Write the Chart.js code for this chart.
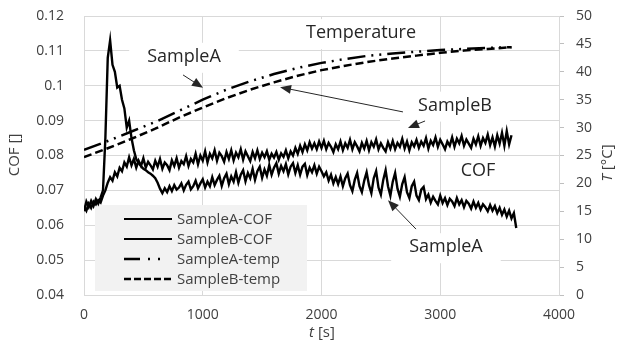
<!DOCTYPE html>
<html lang="en">
<head>
<meta charset="UTF-8" />
<title>COF and temperature vs time</title>
<script src="https://cdn.jsdelivr.net/npm/chart.js@4.4.0/dist/chart.umd.min.js"></script>
<style>
  html, body { margin: 0; padding: 0; background: #fff; }
  #wrap { position: relative; width: 621px; height: 347px; }
</style>
</head>
<body>
<div id="wrap"><canvas id="chart"></canvas></div>
<script>
// sample times for the friction records [s]
const cofTime = [
  0, 20, 40, 60, 80, 100, 120, 140, 160, 180,
  200, 220, 240, 260, 280, 300, 320, 340, 360, 380,
  400, 420, 440, 460, 480, 500, 520, 540, 560, 580,
  600, 620, 640, 660, 680, 700, 720, 740, 760, 780,
  800, 820, 840, 860, 880, 900, 920, 940, 960, 980,
  1000, 1020, 1040, 1060, 1080, 1100, 1120, 1140, 1160, 1180,
  1200, 1220, 1240, 1260, 1280, 1300, 1320, 1340, 1360, 1380,
  1400, 1420, 1440, 1460, 1480, 1500, 1520, 1540, 1560, 1580,
  1600, 1620, 1640, 1660, 1680, 1700, 1720, 1740, 1760, 1780,
  1800, 1820, 1840, 1860, 1880, 1900, 1920, 1940, 1960, 1980,
  2000, 2020, 2040, 2060, 2080, 2100, 2120, 2140, 2160, 2180,
  2200, 2220, 2240, 2260, 2280, 2300, 2320, 2340, 2360, 2380,
  2400, 2420, 2440, 2460, 2480, 2500, 2520, 2540, 2560, 2580,
  2600, 2620, 2640, 2660, 2680, 2700, 2720, 2740, 2760, 2780,
  2800, 2820, 2840, 2860, 2880, 2900, 2920, 2940, 2960, 2980,
  3000, 3020, 3040, 3060, 3080, 3100, 3120, 3140, 3160, 3180,
  3200, 3220, 3240, 3260, 3280, 3300, 3320, 3340, 3360, 3380,
  3400, 3420, 3440, 3460, 3480, 3500, 3520, 3540, 3560, 3580,
  3600, 3620, 3640
];
const sampleACof = [
  0.0640, 0.0668, 0.0652, 0.0670, 0.0655, 0.0675, 0.0662, 0.0680, 0.0700, 0.0850,
  0.1080, 0.1130, 0.1060, 0.1040, 0.0995, 0.1000, 0.0960, 0.0935, 0.0880, 0.0900,
  0.0850, 0.0815, 0.0790, 0.0778, 0.0770, 0.0762, 0.0758, 0.0752, 0.0748, 0.0742,
  0.0735, 0.0722, 0.0705, 0.0692, 0.0706, 0.0695, 0.0712, 0.0698, 0.0715, 0.0702,
  0.0708, 0.0720, 0.0700, 0.0716, 0.0725, 0.0703, 0.0712, 0.0728, 0.0706, 0.0720,
  0.0732, 0.0708, 0.0725, 0.0712, 0.0738, 0.0715, 0.0730, 0.0742, 0.0713, 0.0735,
  0.0748, 0.0718, 0.0740, 0.0725, 0.0752, 0.0722, 0.0745, 0.0758, 0.0726, 0.0750,
  0.0735, 0.0762, 0.0730, 0.0755, 0.0768, 0.0736, 0.0760, 0.0742, 0.0772, 0.0745,
  0.0765, 0.0778, 0.0748, 0.0770, 0.0755, 0.0775, 0.0746, 0.0768, 0.0778, 0.0750,
  0.0772, 0.0745, 0.0768, 0.0776, 0.0744, 0.0765, 0.0752, 0.0772, 0.0748, 0.0768,
  0.0755, 0.0740, 0.0752, 0.0728, 0.0745, 0.0720, 0.0738, 0.0718, 0.0740, 0.0712,
  0.0735, 0.0748, 0.0715, 0.0698, 0.0730, 0.0750, 0.0712, 0.0695, 0.0728, 0.0752,
  0.0715, 0.0692, 0.0735, 0.0755, 0.0708, 0.0688, 0.0730, 0.0758, 0.0712, 0.0685,
  0.0725, 0.0750, 0.0705, 0.0682, 0.0718, 0.0738, 0.0695, 0.0678, 0.0712, 0.0725,
  0.0685, 0.0672, 0.0702, 0.0710, 0.0675, 0.0688, 0.0665, 0.0682, 0.0670, 0.0660,
  0.0685, 0.0664, 0.0678, 0.0658, 0.0676, 0.0668, 0.0655, 0.0678, 0.0660, 0.0672,
  0.0652, 0.0670, 0.0662, 0.0648, 0.0668, 0.0650, 0.0664, 0.0645, 0.0660, 0.0652,
  0.0640, 0.0658, 0.0642, 0.0655, 0.0635, 0.0650, 0.0630, 0.0645, 0.0625, 0.0642,
  0.0620, 0.0635, 0.0592
];
const sampleBCof = [
  0.0655, 0.0642, 0.0662, 0.0650, 0.0668, 0.0660, 0.0672, 0.0665, 0.0685, 0.0700,
  0.0722, 0.0738, 0.0728, 0.0752, 0.0740, 0.0765, 0.0755, 0.0780, 0.0768, 0.0795,
  0.0772, 0.0790, 0.0765, 0.0785, 0.0770, 0.0792, 0.0765, 0.0782, 0.0772, 0.0760,
  0.0785, 0.0768, 0.0790, 0.0762, 0.0780, 0.0772, 0.0758, 0.0786, 0.0770, 0.0792,
  0.0765, 0.0784, 0.0775, 0.0798, 0.0770, 0.0790, 0.0780, 0.0805, 0.0775, 0.0800,
  0.0785, 0.0812, 0.0780, 0.0805, 0.0792, 0.0815, 0.0785, 0.0808, 0.0798, 0.0782,
  0.0810, 0.0790, 0.0815, 0.0786, 0.0808, 0.0795, 0.0818, 0.0788, 0.0812, 0.0798,
  0.0784, 0.0810, 0.0792, 0.0815, 0.0790, 0.0808, 0.0795, 0.0812, 0.0788, 0.0805,
  0.0794, 0.0810, 0.0788, 0.0806, 0.0796, 0.0815, 0.0792, 0.0812, 0.0800, 0.0822,
  0.0805, 0.0828, 0.0810, 0.0832, 0.0815, 0.0838, 0.0820, 0.0835, 0.0818, 0.0840,
  0.0822, 0.0842, 0.0818, 0.0836, 0.0825, 0.0810, 0.0832, 0.0818, 0.0840, 0.0815,
  0.0835, 0.0822, 0.0845, 0.0818, 0.0838, 0.0826, 0.0812, 0.0836, 0.0820, 0.0842,
  0.0815, 0.0838, 0.0825, 0.0846, 0.0818, 0.0835, 0.0822, 0.0812, 0.0838, 0.0820,
  0.0842, 0.0818, 0.0836, 0.0825, 0.0848, 0.0820, 0.0840, 0.0815, 0.0838, 0.0826,
  0.0845, 0.0822, 0.0840, 0.0828, 0.0850, 0.0820, 0.0842, 0.0830, 0.0852, 0.0825,
  0.0845, 0.0832, 0.0818, 0.0840, 0.0828, 0.0852, 0.0825, 0.0848, 0.0835, 0.0856,
  0.0828, 0.0846, 0.0834, 0.0822, 0.0848, 0.0832, 0.0855, 0.0828, 0.0850, 0.0836,
  0.0860, 0.0830, 0.0852, 0.0826, 0.0858, 0.0834, 0.0865, 0.0828, 0.0870, 0.0832,
  0.0858, null, null
];

// temperature records [°C]
const tempTime = [0, 200, 400, 600, 800, 1000, 1200, 1400, 1600, 1800, 2000,
  2200, 2400, 2600, 2800, 3000, 3200, 3400, 3600];
const sampleATemp = [26.0, 27.6, 29.3, 31.0, 33.0, 35.0, 36.8, 38.3, 39.6, 40.7, 41.6,
  42.3, 42.9, 43.3, 43.6, 43.9, 44.1, 44.3, 44.4];
const sampleBTemp = [24.7, 26.3, 28.0, 29.8, 31.8, 33.6, 35.3, 36.8, 38.1, 39.3, 40.3,
  41.1, 41.8, 42.4, 42.9, 43.4, 43.8, 44.1, 44.4];

const timeTicks = [0, 1000, 2000, 3000, 4000];
const cofTicks = [0.04, 0.05, 0.06, 0.07, 0.08, 0.09, 0.1, 0.11, 0.12];
const tempTicks = [0, 5, 10, 15, 20, 25, 30, 35, 40, 45, 50];

// callouts, placed in data units (t, COF)
const notes = [
  { text: 'SampleA', t: 842, cof: 0.1083 },
  { text: 'Temperature', t: 2333, cof: 0.1151 },
  { text: 'SampleB', t: 3124, cof: 0.0943 },
  { text: 'COF', t: 3318, cof: 0.0755 },
  { text: 'SampleA', t: 3048, cof: 0.0537 }
];
const arrows = [
  { from: [834, 0.1031], to: [1002, 0.0994] },
  { from: [2686, 0.0925], to: [1651, 0.0996] },
  { from: [2872, 0.0899], to: [2728, 0.0879] },
  { from: [2796, 0.0589], to: [2560, 0.0672] }
];

const textColor = '#404040';
const gridColor = '#d9d9d9';
const font = "'Open Sans', sans-serif";

function pairs(xs, ys) {
  return xs.map((x, i) => ({ x: x, y: ys[i] }));
}

const overlay = {
  id: 'overlay',
  beforeDatasetsDraw(chart) {
    const ctx = chart.ctx;
    const xs = chart.scales.x, ys = chart.scales.y;
    ctx.save();

    // callout text on white patches
    ctx.font = '18px ' + font;
    ctx.textAlign = 'center';
    ctx.textBaseline = 'middle';
    notes.forEach(n => {
      const px = xs.getPixelForValue(n.t), py = ys.getPixelForValue(n.cof);
      const w = ctx.measureText(n.text).width;
      ctx.fillStyle = '#fff';
      ctx.fillRect(px - w / 2 - 18, py - 14, w + 36, 30);
      ctx.fillStyle = '#262626';
      ctx.fillText(n.text, px, py);
    });

    // arrows
    ctx.strokeStyle = '#262626';
    ctx.fillStyle = '#262626';
    ctx.lineWidth = 1;
    arrows.forEach(a => {
      const x0 = xs.getPixelForValue(a.from[0]), y0 = ys.getPixelForValue(a.from[1]);
      const x1 = xs.getPixelForValue(a.to[0]), y1 = ys.getPixelForValue(a.to[1]);
      const ang = Math.atan2(y1 - y0, x1 - x0);
      ctx.beginPath();
      ctx.moveTo(x0, y0);
      ctx.lineTo(x1 - 8 * Math.cos(ang), y1 - 8 * Math.sin(ang));
      ctx.stroke();
      ctx.beginPath();
      ctx.moveTo(x1, y1);
      ctx.lineTo(x1 - 11 * Math.cos(ang) + 4.5 * Math.sin(ang), y1 - 11 * Math.sin(ang) - 4.5 * Math.cos(ang));
      ctx.lineTo(x1 - 11 * Math.cos(ang) - 4.5 * Math.sin(ang), y1 - 11 * Math.sin(ang) + 4.5 * Math.cos(ang));
      ctx.closePath();
      ctx.fill();
    });

    // legend box
    ctx.fillStyle = '#f2f2f2';
    ctx.fillRect(95, 205, 212, 86);
    ctx.font = '15px ' + font;
    ctx.textAlign = 'left';
    chart.data.datasets.forEach((ds, i) => {
      const ly = 219 + i * 20;
      ctx.strokeStyle = '#000';
      ctx.lineWidth = ds.legendWidth;
      ctx.setLineDash(ds.legendDash || []);
      ctx.beginPath();
      ctx.moveTo(124, ly);
      ctx.lineTo(172, ly);
      ctx.stroke();
      ctx.setLineDash([]);
      ctx.fillStyle = textColor;
      ctx.fillText(ds.label, 177, ly + 1);
    });

    // axis titles
    ctx.fillStyle = textColor;
    ctx.font = '15px ' + font;
    ctx.textAlign = 'center';
    ctx.save();
    ctx.translate(15, 155);
    ctx.rotate(-Math.PI / 2);
    ctx.fillText('COF []', 0, 0);
    ctx.restore();

    const mixed = (parts, cx, cy) => {
      let total = 0;
      parts.forEach(p => { ctx.font = p[1] + '15px ' + font; total += ctx.measureText(p[0]).width; });
      let cur = cx - total / 2;
      ctx.textAlign = 'left';
      parts.forEach(p => {
        ctx.font = p[1] + '15px ' + font;
        ctx.fillText(p[0], cur, cy);
        cur += ctx.measureText(p[0]).width;
      });
    };
    mixed([['t', 'italic '], [' [s]', '']], 322, 333);
    ctx.save();
    ctx.translate(608, 163);
    ctx.rotate(-Math.PI / 2);
    mixed([['T', 'italic '], [' [°C]', '']], 0, 0);
    ctx.restore();

    ctx.restore();
  }
};

new Chart(document.getElementById('chart'), {
  type: 'line',
  data: {
    datasets: [
      { label: 'SampleA-COF', data: pairs(cofTime, sampleACof), yAxisID: 'y',
        borderColor: '#000', borderWidth: 2.4, legendWidth: 2 },
      { label: 'SampleB-COF', data: pairs(cofTime, sampleBCof), yAxisID: 'y',
        borderColor: '#000', borderWidth: 2.4, legendWidth: 2 },
      { label: 'SampleA-temp', data: pairs(tempTime, sampleATemp), yAxisID: 'y1',
        borderColor: '#000', borderWidth: 2.5, borderDash: [18, 6, 2, 6, 2, 6],
        legendWidth: 2.5, legendDash: [16, 8, 2, 8, 2, 40] },
      { label: 'SampleB-temp', data: pairs(tempTime, sampleBTemp), yAxisID: 'y1',
        borderColor: '#000', borderWidth: 2.5, borderDash: [8, 4],
        legendWidth: 2.5, legendDash: [7, 3] }
    ]
  },
  options: {
    responsive: true,
    maintainAspectRatio: false,
    animation: false,
    layout: { padding: { top: 16, left: 0, right: 0, bottom: 0 } },
    elements: { point: { radius: 0 }, line: { tension: 0 } },
    plugins: { legend: { display: false }, tooltip: { enabled: false } },
    scales: {
      x: {
        type: 'linear', min: 0, max: 4000,
        afterBuildTicks: s => { s.ticks = timeTicks.map(v => ({ value: v })); },
        afterFit: s => { s.height = 52; s.paddingLeft = 0; s.paddingRight = 0; },
        grid: { color: gridColor, drawTicks: false },
        border: { color: gridColor },
        ticks: { color: textColor, font: { family: font, size: 14 }, padding: 12,
          maxRotation: 0, callback: v => String(v) }
      },
      y: {
        position: 'left', min: 0.04, max: 0.12,
        afterBuildTicks: s => { s.ticks = cofTicks.map(v => ({ value: v })); },
        afterFit: s => { s.width = 84; s.paddingTop = 0; s.paddingBottom = 0; },
        grid: { color: gridColor, drawTicks: false },
        border: { color: gridColor },
        ticks: { color: textColor, font: { family: font, size: 14 }, padding: 20,
          callback: v => String(+v.toFixed(2)) }
      },
      y1: {
        position: 'right', min: 0, max: 50,
        afterBuildTicks: s => { s.ticks = tempTicks.map(v => ({ value: v })); },
        afterFit: s => { s.width = 62; s.paddingTop = 0; s.paddingBottom = 0; },
        grid: { drawOnChartArea: false, color: '#bfbfbf', tickLength: 5 },
        border: { color: gridColor },
        ticks: { color: textColor, font: { family: font, size: 14 }, padding: 12 }
      }
    }
  },
  plugins: [overlay]
});
</script>
</body>
</html>
